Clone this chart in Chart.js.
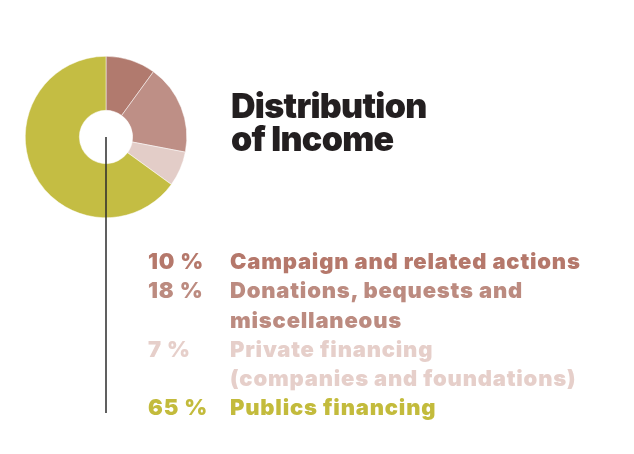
<!DOCTYPE html>
<html>
<head>
<meta charset="utf-8">
<script src="https://cdn.jsdelivr.net/npm/chart.js@4"></script>
<style>
  html, body { margin: 0; padding: 0; background: #fff; }
  body { width: 634px; height: 454px; position: relative; overflow: hidden; font-family: Inter, "Noto Sans", sans-serif; }
  #wrap { position: absolute; left: 0; top: 0; width: 634px; height: 454px; }
  #titre { position: absolute; left: 231px; top: 89px; font-size: 34px; line-height: 33px; font-weight: 900; color: #231f20; letter-spacing: -0.7px; }
  #legende { position: absolute; left: 148px; top: 247px; font-size: 22px; line-height: 29.3px; font-weight: 900; letter-spacing: 0.8px; }
  .ligne { display: flex; }
  .pct { width: 82px; flex: none; }
  .lib { white-space: pre-line; }
</style>
</head>
<body>
<div id="wrap"><canvas id="graficoRosca"></canvas></div>
<div id="titre">Distribution<br>of Income</div>
<div id="legende"></div>
<script>
// Dados
const categorias = ["Campaign and related actions", "Donations, bequests and\nmiscellaneous", "Private financing\n(companies and foundations)", "Publics financing"];
const valores = [10, 18, 7, 65];
const coresFatias = ["#b17a6e", "#be8f86", "#e3cdc8", "#c4bd43"];
const coresTexto = ["#b5786b", "#bc8b80", "#e6cfca", "#c3bb3c"];

// legenda em HTML
const leg = document.getElementById("legende");
categorias.forEach((c, i) => {
  const l = document.createElement("div");
  l.className = "ligne";
  l.style.color = coresTexto[i];
  l.innerHTML = '<div class="pct">' + valores[i] + ' %</div><div class="lib"></div>';
  l.querySelector(".lib").textContent = c;
  leg.appendChild(l);
});

// linha vertical a partir do centro
const linhaCentro = {
  id: "linhaCentro",
  afterDatasetsDraw(chart) {
    const arco = chart.getDatasetMeta(0).data[0];
    const ctx = chart.ctx;
    ctx.save();
    ctx.strokeStyle = "#2b2b2b";
    ctx.lineWidth = 1.5;
    ctx.beginPath();
    ctx.moveTo(arco.x, arco.y);
    ctx.lineTo(arco.x, 413);
    ctx.stroke();
    ctx.restore();
  }
};

new Chart(document.getElementById("graficoRosca"), {
  type: "doughnut",
  data: {
    labels: categorias,
    datasets: [{
      data: valores,
      backgroundColor: coresFatias,
      borderColor: "#ffffff",
      borderWidth: 0.5
    }]
  },
  options: {
    responsive: true,
    maintainAspectRatio: false,
    animation: false,
    cutout: "33%",
    layout: { padding: { left: 25, top: 56, right: 447, bottom: 236 } },
    plugins: { legend: { display: false }, tooltip: { enabled: false } }
  },
  plugins: [linhaCentro]
});
</script>
</body>
</html>
